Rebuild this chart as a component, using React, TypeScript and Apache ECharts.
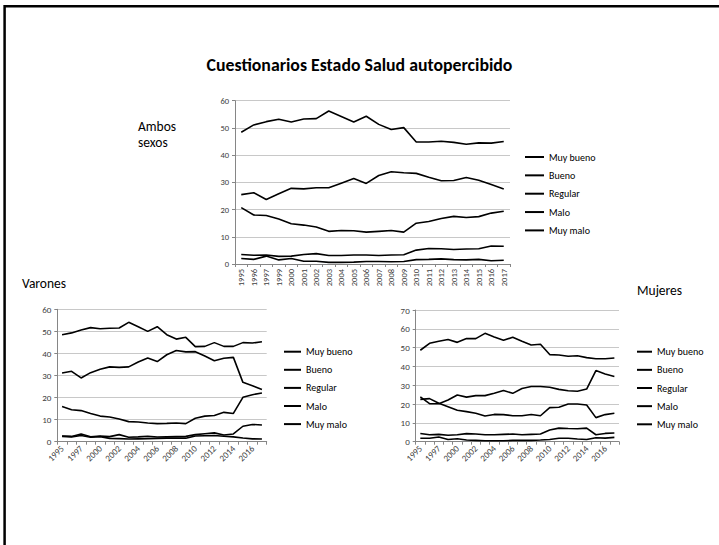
import React, { useEffect, useRef } from "react";
import * as echarts from "echarts";

const years = ["1995","1996","1997","1999","2000","2001","2002","2003","2004","2005","2006","2007","2008","2009","2010","2011","2012","2013","2014","2015","2016","2017"];
const names = ["Muy bueno", "Bueno", "Regular", "Malo", "Muy malo"];

// Ambos sexos
const ambosMuyBueno = [20.7, 18.0, 17.8, 16.5, 14.8, 14.3, 13.6, 12.0, 12.3, 12.2, 11.7, 12.0, 12.3, 11.7, 15.0, 15.6, 16.7, 17.5, 17.1, 17.4, 18.7, 19.4];
const ambosBueno = [48.4, 51.1, 52.3, 53.2, 52.2, 53.3, 53.4, 56.2, 54.2, 52.2, 54.3, 51.3, 49.4, 50.1, 44.8, 44.8, 45.1, 44.7, 44.0, 44.5, 44.4, 45.0];
const ambosRegular = [25.5, 26.2, 23.7, 25.8, 27.8, 27.6, 28.0, 28.0, 29.7, 31.4, 29.6, 32.5, 33.9, 33.5, 33.3, 31.9, 30.6, 30.7, 31.8, 30.8, 29.2, 27.6];
const ambosMalo = [3.5, 3.2, 3.3, 2.8, 2.9, 3.5, 3.8, 3.1, 3.1, 3.3, 3.3, 3.1, 3.3, 3.4, 5.1, 5.7, 5.6, 5.3, 5.5, 5.6, 6.6, 6.5];
const ambosMuyMalo = [2.0, 1.7, 2.9, 1.5, 2.0, 1.0, 1.0, 0.6, 0.6, 0.7, 0.9, 0.9, 0.8, 0.9, 1.6, 1.7, 1.9, 1.6, 1.5, 1.7, 1.2, 1.4];

// Varones
const varMuyBueno = [15.9, 14.5, 14.1, 12.8, 11.6, 11.2, 10.3, 9.1, 8.9, 8.5, 8.2, 8.3, 8.5, 8.2, 10.6, 11.6, 11.9, 13.3, 12.8, 20.1, 21.3, 22.1];
const varBueno = [48.5, 49.3, 50.6, 51.7, 51.2, 51.4, 51.5, 54.1, 52.1, 50.0, 52.1, 48.5, 46.5, 47.3, 43.1, 43.2, 44.9, 43.2, 43.2, 44.9, 44.7, 45.3];
const varRegular = [31.1, 31.9, 28.9, 31.3, 32.8, 33.9, 33.7, 33.9, 36.1, 37.9, 36.3, 39.4, 41.3, 40.7, 40.8, 38.8, 36.7, 37.8, 38.2, 26.9, 25.4, 23.7];
const varMalo = [2.6, 2.4, 3.5, 2.2, 2.6, 2.3, 3.2, 2.0, 2.2, 2.5, 2.1, 2.2, 2.3, 2.4, 3.2, 3.6, 4.0, 3.0, 3.5, 7.0, 7.8, 7.6];
const varMuyMalo = [2.4, 2.2, 2.8, 2.0, 2.3, 1.5, 1.4, 1.2, 1.3, 1.4, 1.5, 1.6, 1.6, 1.6, 2.6, 2.7, 2.8, 2.5, 2.2, 1.7, 1.3, 1.2];

// Mujeres
const mujMuyBueno = [22.5, 22.9, 20.4, 18.6, 16.7, 16.0, 15.1, 13.7, 14.5, 14.4, 13.8, 13.8, 14.5, 13.8, 18.1, 18.3, 20.0, 20.0, 19.5, 12.8, 14.4, 15.1];
const mujBueno = [48.6, 52.3, 53.4, 54.3, 52.8, 54.8, 54.8, 57.6, 55.7, 53.9, 55.5, 53.4, 51.4, 51.8, 46.3, 46.1, 45.4, 45.7, 44.7, 44.1, 44.1, 44.5];
const mujRegular = [23.8, 20.2, 20.2, 22.2, 24.8, 23.7, 24.5, 24.5, 25.8, 27.2, 25.7, 28.3, 29.3, 29.3, 28.9, 27.8, 27.1, 26.8, 28.0, 37.8, 36.0, 34.6];
const mujMalo = [4.4, 3.7, 3.9, 3.4, 3.7, 4.3, 4.1, 3.7, 3.7, 3.9, 4.1, 3.7, 3.9, 4.1, 6.2, 7.2, 7.0, 6.9, 7.2, 3.7, 4.4, 4.6];
const mujMuyMalo = [1.8, 1.8, 2.5, 1.2, 1.6, 0.9, 0.7, 0.5, 0.5, 0.5, 0.7, 0.7, 0.7, 0.9, 1.2, 1.8, 1.8, 1.4, 1.2, 2.1, 1.9, 2.3];

const FONT = "Calibri, Carlito, 'Liberation Sans', Arial, sans-serif";

export default function App() {
  const ref = useRef<HTMLDivElement>(null);
  useEffect(() => {
    if (!ref.current) return;
    const chart = echarts.init(ref.current, undefined, { renderer: "svg" });
    const sets = [
      [ambosMuyBueno, ambosBueno, ambosRegular, ambosMalo, ambosMuyMalo],
      [varMuyBueno, varBueno, varRegular, varMalo, varMuyMalo],
      [mujMuyBueno, mujBueno, mujRegular, mujMalo, mujMuyMalo],
    ];
    const series: any[] = [];
    sets.forEach((set, gi) => {
      set.forEach((data, si) => {
        series.push({
          type: "line",
          name: names[si],
          xAxisIndex: gi,
          yAxisIndex: gi,
          data,
          symbol: "none",
          showSymbol: false,
          lineStyle: { color: "#000", width: 1.6 },
          itemStyle: { color: "#000" },
        });
      });
    });
    const xAxis = (gi: number, rotate: number, interval: number, fs: number) => ({
      type: "category",
      gridIndex: gi,
      data: years,
      boundaryGap: true,
      axisLine: { lineStyle: { color: "#868686", width: 1 } },
      axisTick: { show: true, length: 3, alignWithLabel: false, interval: 0, lineStyle: { color: "#868686" } },
      axisLabel: { interval, rotate, fontSize: fs, color: "#404040", fontFamily: FONT, margin: 5 },
      splitLine: { show: false },
    });
    const yAxis = (gi: number, max: number, fs: number) => ({
      type: "value",
      gridIndex: gi,
      min: 0,
      max,
      interval: 10,
      axisLine: { show: true, lineStyle: { color: "#868686", width: 1 } },
      axisTick: { show: true, length: 3, lineStyle: { color: "#868686" } },
      axisLabel: { fontSize: fs, color: "#404040", fontFamily: FONT, margin: 6 },
      splitLine: { show: true, lineStyle: { color: "#c8c8c8", width: 1 } },
    });
    const legend = (left: number, top: number, iw: number, gap: number) => ({
      orient: "vertical",
      left,
      top,
      padding: 0,
      itemWidth: iw,
      itemHeight: 2,
      icon: "rect",
      itemGap: gap,
      selectedMode: false,
      textStyle: { fontSize: 10, lineHeight: 12, color: "#000", fontFamily: FONT },
      data: names,
    });
    const sideText = { fontSize: 13.5, fontWeight: "normal", color: "#000", fontFamily: FONT, lineHeight: 16 };
    chart.setOption({
      animation: false,
      backgroundColor: "#fff",
      title: [
        {
          text: "Cuestionarios Estado Salud autopercibido",
          left: "center",
          top: 55,
          padding: 0,
          textStyle: { fontSize: 17.8, fontWeight: "bold", color: "#000", fontFamily: FONT, lineHeight: 20 },
        },
        { text: "Ambos\nsexos", left: 138, top: 118.5, padding: 0, textStyle: sideText },
        { text: "Varones", left: 22, top: 275, padding: 0, textStyle: sideText },
        { text: "Mujeres", left: 637, top: 282, padding: 0, textStyle: sideText },
      ],
      grid: [
        { left: 235, top: 100.7, width: 275, height: 163.3, containLabel: false },
        { left: 57.3, top: 309.3, width: 209.4, height: 132.4, containLabel: false },
        { left: 415.7, top: 310, width: 203.3, height: 131.7, containLabel: false },
      ],
      xAxis: [xAxis(0, 90, 0, 8.5), xAxis(1, 45, 1, 9), xAxis(2, 45, 1, 9)],
      yAxis: [yAxis(0, 60, 8.5), yAxis(1, 60, 9), yAxis(2, 70, 9)],
      legend: [legend(525, 151, 19, 6.35), legend(284, 345.7, 17, 6.1), legend(637, 345.7, 15, 6.15)],
      graphic: [
        {
          type: "rect",
          shape: { x: 4.6, y: 6.2, width: 800, height: 700 },
          style: { fill: "none", stroke: "#000", lineWidth: 2.5 },
          silent: true,
        },
      ],
      series,
    });
    return () => chart.dispose();
  }, []);
  return (
    <div
      ref={ref}
      style={{ position: "absolute", left: 0, top: 0, width: 719, height: 545 }}
    />
  );
}
